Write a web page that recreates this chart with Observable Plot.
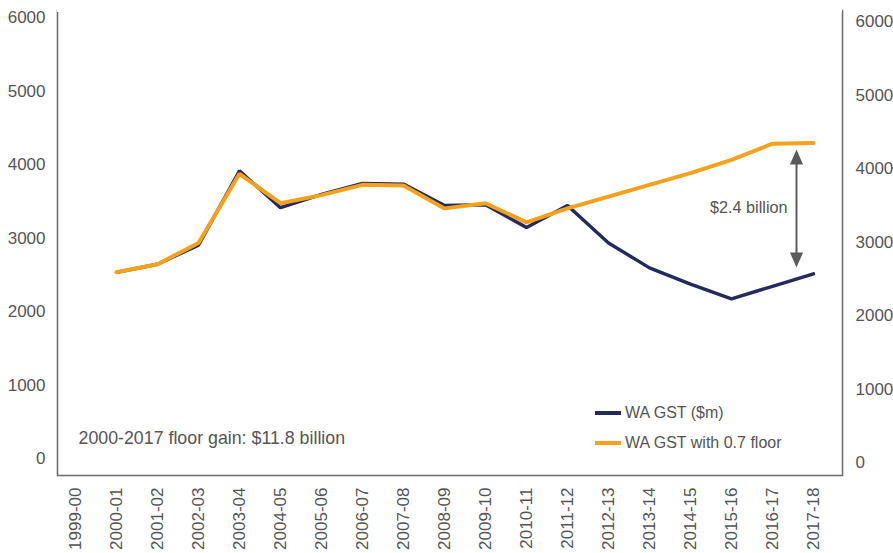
<!DOCTYPE html>
<html><head><meta charset="utf-8">
<script src="https://cdn.jsdelivr.net/npm/d3@7"></script>
<script src="https://cdn.jsdelivr.net/npm/@observablehq/plot@0.6"></script>
<style>
html,body{margin:0;padding:0;background:#fff;}
#chart{position:relative;width:893px;height:553px;font-family:"Liberation Sans",Arial,sans-serif;}
.legend{position:absolute;left:595px;top:398px;font-size:16px;color:#555;font-family:"Liberation Sans",Arial,sans-serif;}
.legend .item{display:flex;align-items:center;height:30px;white-space:nowrap;}
.legend .sw{width:26px;height:4px;margin-right:4px;}
</style></head><body><div id="chart"></div>
<script>
const years = ["1999-00","2000-01","2001-02","2002-03","2003-04","2004-05","2005-06","2006-07","2007-08","2008-09","2009-10","2010-11","2011-12","2012-13","2013-14","2014-15","2015-16","2016-17","2017-18"];
const periods = ["2000-01","2001-02","2002-03","2003-04","2004-05","2005-06","2006-07","2007-08","2008-09","2009-10","2010-11","2011-12","2012-13","2013-14","2014-15","2015-16","2016-17","2017-18"];
const waGst =      [2540,2650,2910,3920,3420,3600,3750,3740,3450,3460,3150,3450,2940,2600,2380,2180,2350,2520];
const waGstFloor = [2540,2650,2940,3880,3480,3590,3730,3720,3410,3480,3220,3410,3570,3730,3890,4070,4290,4300];
const yTicks = [0,1000,2000,3000,4000,5000,6000];
const seriesNames = ["WA GST ($m)","WA GST with 0.7 floor"];
const seriesColors = ["#232a5e","#f6a11c"];
const gapLabel = "$2.4 billion";
const gainLabel = "2000-2017 floor gain: $11.8 billion";
const gapTop = 4210, gapBottom = 2605;

const navyRows = periods.map((p,i)=>({period:p, value:waGst[i]}));
const floorRows = periods.map((p,i)=>({period:p, value:waGstFloor[i]}));

const yMin = -224, yMax = 6102;
const txt = "#555555";
const font = '"Liberation Sans", Arial, sans-serif';
const fmt = d => String(d);

const headUp = {draw(ctx){ ctx.moveTo(0,0); ctx.lineTo(6.5,15); ctx.lineTo(-6.5,15); ctx.closePath(); }};

const chart = Plot.plot({
  width: 893, height: 553,
  marginLeft: 57, marginRight: 51, marginTop: 10, marginBottom: 78,
  style: {fontFamily: font, fontSize: "17px", color: txt, background: "white"},
  x: {type: "point", domain: years, padding: 0, insetLeft: 15, insetRight: 26},
  y: {domain: [yMin, yMax]},
  marks: [
    Plot.frame({stroke: "#6e6e6e", strokeWidth: 1.6}),
    Plot.ruleY([yMax], {stroke: "white", strokeWidth: 3}),
    Plot.axisY(yTicks, {anchor: "left", tickSize: 0, tickPadding: 12, label: null, tickFormat: fmt, fill: txt, fontSize: 17}),
    Plot.axisY(yTicks, {anchor: "right", tickSize: 0, tickPadding: 13, dy: 4, label: null, tickFormat: fmt, fill: txt, fontSize: 17}),
    Plot.axisX(years, {anchor: "bottom", tickSize: 0, tickPadding: 12, tickRotate: -90, label: null, fill: txt, fontSize: 17}),
    Plot.line(navyRows, {x: "period", y: "value", stroke: seriesColors[0], strokeWidth: 3.4, strokeLinejoin: "miter"}),
    Plot.line(floorRows, {x: "period", y: "value", stroke: seriesColors[1], strokeWidth: 4, strokeLinejoin: "miter"}),
    Plot.ruleX([0], {x: () => "2017-18", y1: gapTop, y2: gapBottom, dx: -17, stroke: "#5a5a5a", strokeWidth: 2, insetTop: 6, insetBottom: 6}),
    Plot.dot([gapTop], {x: () => "2017-18", y: d => d, dx: -17, symbol: headUp, fill: "#5a5a5a", stroke: null, r: 6}),
    Plot.dot([gapBottom], {x: () => "2017-18", y: d => d, dx: -17, symbol: headUp, rotate: 180, fill: "#5a5a5a", stroke: null, r: 6}),
    Plot.text([gapLabel], {x: () => "2017-18", y: () => 3420, dx: -26, text: d => d, textAnchor: "end", fill: txt, fontSize: 16.2}),
    Plot.text([gainLabel], {x: () => "1999-00", y: () => 279, dx: 3, text: d => d, textAnchor: "start", fill: txt, fontSize: 17.8})
  ]
});
const root = document.getElementById("chart");
root.appendChild(chart);
const leg = document.createElement("div");
leg.className = "legend";
seriesNames.forEach((n,i)=>{
  const it = document.createElement("div"); it.className = "item";
  const sw = document.createElement("span"); sw.className = "sw"; sw.style.background = seriesColors[i];
  const lb = document.createElement("span"); lb.textContent = n;
  it.appendChild(sw); it.appendChild(lb); leg.appendChild(it);
});
root.appendChild(leg);
</script></body></html>
